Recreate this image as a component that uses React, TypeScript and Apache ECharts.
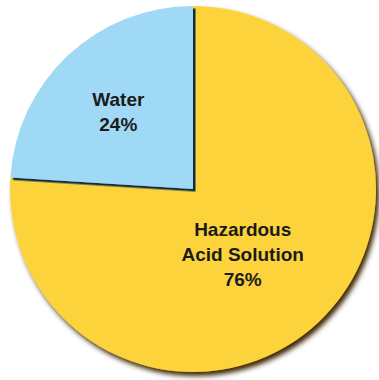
import React, { useEffect, useRef } from "react";
import * as echarts from "echarts";

const categories = ["Hazardous\nAcid Solution", "Water"];
const values = [76, 24];
const colors = ["#FDD33A", "#A0D9F6"];

export default function App() {
  const ref = useRef<HTMLDivElement>(null);
  useEffect(() => {
    if (!ref.current) return;
    const chart = echarts.init(ref.current, undefined, { renderer: "svg" });
    const offsets = [
      [-15, -3],
      [-10, -8],
    ];
    const shadows = [
      { shadowColor: "rgba(60,40,0,1)", shadowBlur: 5, shadowOffsetX: 3, shadowOffsetY: 4 },
      { shadowColor: "rgba(10,45,65,1)", shadowBlur: 1.5, shadowOffsetX: 2.5, shadowOffsetY: 2.5 },
    ];
    chart.setOption({
      animation: false,
      series: [
        {
          type: "pie",
          center: [193, 189],
          radius: 183,
          startAngle: 90,
          clockwise: true,
          silent: true,
          label: {
            show: true,
            position: "inside",
            formatter: "{b}\n{d}%",
            fontFamily: "Liberation Sans, Arial, sans-serif",
            fontWeight: "bold",
            fontSize: 19,
            lineHeight: 25,
            color: "#1b1b1b",
            align: "center",
          },
          labelLine: { show: false },
          data: categories.map((c, i) => ({
            name: c,
            value: values[i],
            itemStyle: { color: colors[i], borderWidth: 0, ...shadows[i] },
            label: { offset: offsets[i] },
          })),
        },
      ],
    });
    return () => chart.dispose();
  }, []);
  return (
    <div
      ref={ref}
      style={{ position: "fixed", left: 0, top: 0, width: 379, height: 380, background: "#fff" }}
    />
  );
}
